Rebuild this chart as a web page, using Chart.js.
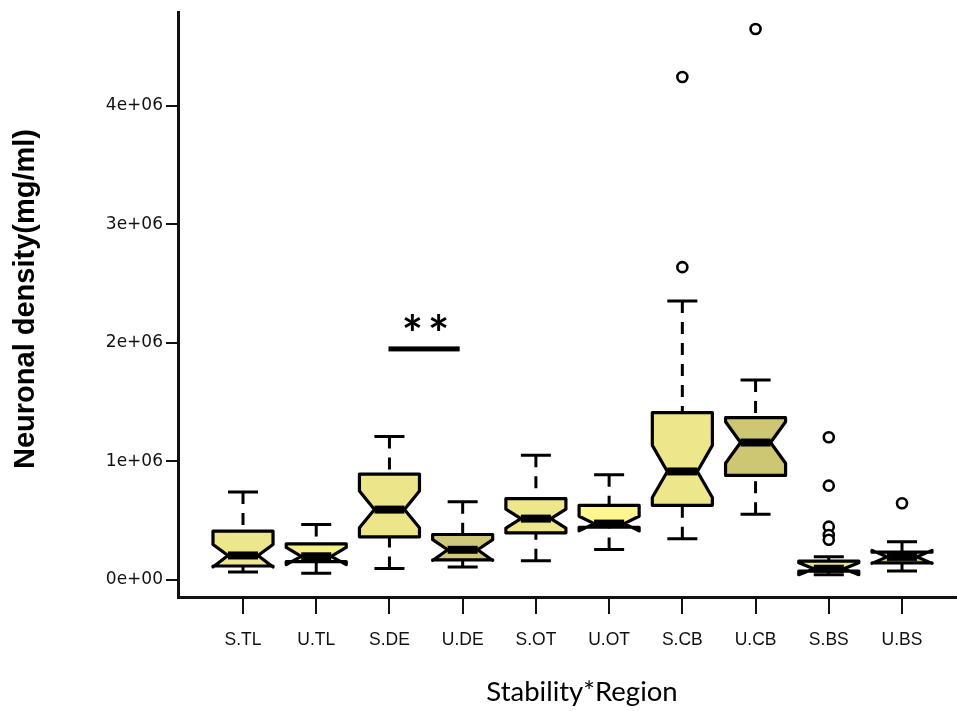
<!DOCTYPE html>
<html>
<head>
<meta charset="utf-8">
<script src="https://cdn.jsdelivr.net/npm/chart.js@4.4.1/dist/chart.umd.min.js"></script>
<style>
html,body{margin:0;padding:0;background:#fff;}
canvas{display:block;}
</style>
</head>
<body>
<canvas id="c" width="957" height="711"></canvas>
<script>
// ---- data ----
const categories = ["S.TL","U.TL","S.DE","U.DE","S.OT","U.OT","S.CB","U.CB","S.BS","U.BS"];
const whiskerLow  = [0.067e6,0.056e6,0.098e6,0.109e6,0.162e6,0.258e6,0.347e6,0.555e6,0.045e6,0.076e6];
const q1          = [0.118e6,0.155e6,0.364e6,0.170e6,0.398e6,0.445e6,0.630e6,0.882e6,0.075e6,0.145e6];
const median      = [0.207e6,0.200e6,0.594e6,0.255e6,0.518e6,0.476e6,0.916e6,1.160e6,0.095e6,0.195e6];
const q3          = [0.412e6,0.305e6,0.894e6,0.384e6,0.686e6,0.630e6,1.412e6,1.370e6,0.160e6,0.235e6];
const whiskerHigh = [0.742e6,0.468e6,1.210e6,0.661e6,1.053e6,0.888e6,2.354e6,1.688e6,0.197e6,0.323e6];
const notchLow    = [0.110e6,0.130e6,0.440e6,0.165e6,0.438e6,0.414e6,0.696e6,0.985e6,0.045e6,0.140e6];
const notchHigh   = [0.300e6,0.275e6,0.750e6,0.340e6,0.598e6,0.538e6,1.136e6,1.335e6,0.145e6,0.250e6];
const outliers    = [[],[],[],[],[],[],[2.64e6,4.245e6],[4.65e6],[1.205e6,0.796e6,0.45e6,0.38e6,0.34e6],[0.647e6]];
const yTickValues = [0,1e6,2e6,3e6,4e6];
const yTickLabels = ["0e+00","1e+06","2e+06","3e+06","4e+06"];
const sigFrom = 3, sigTo = 4, sigValue = 1.95e6, sigLabel = "**";

// ---- styles ----
const fills = ["#EEE68A","#F6EE8A","#EDE589","#CFC77A","#EEE68A","#FFF68F","#EEE68A","#CDC673","#EEE68A","#CDC673"];
const BOX_HALF = 0.41;   // in category units

const outlierPoints = [];
outliers.forEach((arr,i)=>arr.forEach(v=>outlierPoints.push({x:i+1,y:v})));

const boxPlugin = {
  id:'boxes',
  beforeDraw(chart){
    const c = chart.ctx;
    c.save(); c.fillStyle='#fff'; c.fillRect(0,0,chart.width,chart.height); c.restore();
  },
  beforeDatasetsDraw(chart){
    const c = chart.ctx, xs = chart.scales.x, ys = chart.scales.y;
    c.save();
    categories.forEach((cat,i)=>{
      const cx = xs.getPixelForValue(i+1);
      const hw = xs.getPixelForValue(i+1+BOX_HALF) - cx;
      const y = v => ys.getPixelForValue(v);
      c.strokeStyle='#000'; c.lineWidth=3; c.lineCap='butt';
      c.setLineDash([12,9]);
      c.beginPath(); c.moveTo(cx,y(whiskerHigh[i])); c.lineTo(cx,y(q3[i])); c.stroke();
      c.beginPath(); c.moveTo(cx,y(whiskerLow[i])); c.lineTo(cx,y(q1[i])); c.stroke();
      c.setLineDash([]);
      c.beginPath();
      c.moveTo(cx-hw/2,y(whiskerHigh[i])); c.lineTo(cx+hw/2,y(whiskerHigh[i]));
      c.moveTo(cx-hw/2,y(whiskerLow[i])); c.lineTo(cx+hw/2,y(whiskerLow[i]));
      c.stroke();
      c.beginPath();
      c.moveTo(cx-hw,y(q1[i]));
      c.lineTo(cx-hw,y(notchLow[i]));
      c.lineTo(cx-hw/2,y(median[i]));
      c.lineTo(cx-hw,y(notchHigh[i]));
      c.lineTo(cx-hw,y(q3[i]));
      c.lineTo(cx+hw,y(q3[i]));
      c.lineTo(cx+hw,y(notchHigh[i]));
      c.lineTo(cx+hw/2,y(median[i]));
      c.lineTo(cx+hw,y(notchLow[i]));
      c.lineTo(cx+hw,y(q1[i]));
      c.closePath();
      c.fillStyle = fills[i]; c.fill();
      c.lineJoin='round'; c.lineWidth=3.2; c.stroke();
      c.lineWidth=8; c.lineCap='butt';
      c.beginPath(); c.moveTo(cx-hw/2,y(median[i])); c.lineTo(cx+hw/2,y(median[i])); c.stroke();
    });
    c.restore();
  },
  afterDraw(chart){
    const c = chart.ctx, xs = chart.scales.x, ys = chart.scales.y;
    c.save();
    c.fillStyle='#000';
    const x1 = xs.getPixelForValue(sigFrom) - 1, x2 = xs.getPixelForValue(sigTo) - 3;
    const yb = ys.getPixelForValue(sigValue);
    c.fillRect(x1, yb-2.5, x2-x1, 5);
    c.font='bold 50px Lato'; c.textAlign='center'; c.textBaseline='alphabetic';
    try { c.letterSpacing = '5px'; } catch(e) {}
    c.fillText(sigLabel, (x1+x2)/2 + 4, yb + 3);
    try { c.letterSpacing = '0px'; } catch(e) {}
    c.font='27.5px Lato'; c.textBaseline='middle';
    c.fillText('Stability*Region', 582, 692);
    c.translate(26, 299); c.rotate(-Math.PI/2);
    c.font='bold 29px "Liberation Sans"';
    c.fillText('Neuronal density(mg/ml)', 0, 0);
    c.restore();
  }
};

new Chart(document.getElementById('c'), {
  type:'scatter',
  data:{datasets:[{
    data: outlierPoints,
    pointRadius:5, pointHoverRadius:5, pointStyle:'circle',
    borderWidth:2.6, borderColor:'#000', backgroundColor:'#fff'
  }]},
  options:{
    responsive:false, animation:false, events:[],
    layout:{autoPadding:false, padding:{top:12,right:0,left:0,bottom:0}},
    plugins:{legend:{display:false}, tooltip:{enabled:false}},
    scales:{
      x:{
        type:'linear', min:0.1122, max:10.751,
        afterBuildTicks: s => { s.ticks = categories.map((c,i)=>({value:i+1})); },
        afterFit: s => { s.height = 114; s.paddingLeft = 0; s.paddingRight = 0; },
        ticks:{ callback:(v)=>categories[Math.round(v)-1], font:{family:'"Liberation Sans"', size:17.5}, color:'#111', padding:16, maxRotation:0, autoSkip:false },
        grid:{ display:true, drawOnChartArea:false, drawTicks:true, tickLength:17, color:'#111', lineWidth:2 },
        border:{ display:true, color:'#111', width:3 }
      },
      y:{
        type:'linear', min:-0.1435e6, max:4.793e6,
        afterBuildTicks: s => { s.ticks = yTickValues.map(v=>({value:v})); },
        afterFit: s => { s.width = 178; s.paddingTop = 0; s.paddingBottom = 0; },
        ticks:{ callback:(v,i)=>yTickLabels[i], font:{family:'"DejaVu Sans"', size:17}, color:'#111', padding:3 },
        grid:{ display:true, drawOnChartArea:false, drawTicks:true, tickLength:12, color:'#111', lineWidth:2 },
        border:{ display:true, color:'#111', width:3 }
      }
    }
  },
  plugins:[boxPlugin]
});
</script>
</body>
</html>
